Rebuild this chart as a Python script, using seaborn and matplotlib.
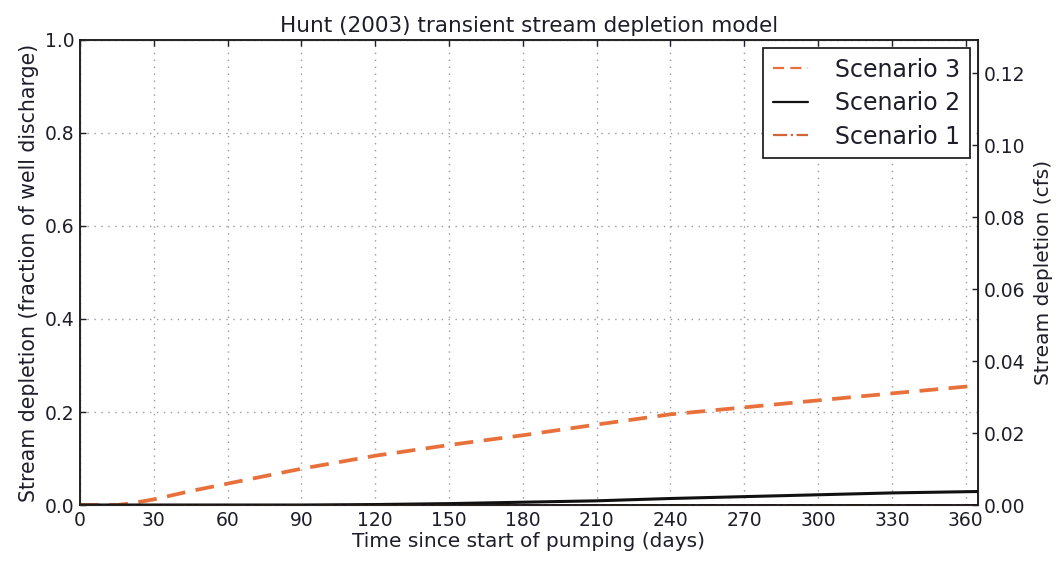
import numpy as np
import pandas as pd
import matplotlib
matplotlib.use("Agg")
import matplotlib.pyplot as plt
import seaborn as sns

days = [0, 15, 20, 30, 45, 60, 90, 120, 150, 180, 210, 240, 270, 300, 330, 365]
scenario3 = [0.0, 0.0, 0.003, 0.012, 0.030, 0.046, 0.078, 0.106, 0.129, 0.150, 0.173, 0.195, 0.210, 0.225, 0.240, 0.257]
scenario2 = [0.0, 0.0, 0.0, 0.0, 0.0, 0.0, 0.0, 0.001, 0.003, 0.006, 0.009, 0.014, 0.018, 0.022, 0.026, 0.029]
scenario1 = [0.0, 0.0, 0.0, 0.0, 0.0, 0.0, 0.0, 0.0, 0.0, 0.0, 0.0, 0.0, 0.0, 0.0, 0.0, 0.0]
xticks = [0, 30, 60, 90, 120, 150, 180, 210, 240, 270, 300, 330, 360]
left_ticks = [0.0, 0.2, 0.4, 0.6, 0.8, 1.0]
right_ticks = [0.00, 0.02, 0.04, 0.06, 0.08, 0.10, 0.12]
right_max = 0.1292

sns.set_style("white")
plt.rcParams['font.family'] = ['DejaVu Sans']
text_color = "#1e1e2a"
plt.rcParams['text.color'] = text_color
plt.rcParams['axes.labelcolor'] = text_color
plt.rcParams['xtick.color'] = text_color
plt.rcParams['ytick.color'] = text_color

fig = plt.figure(figsize=(10.58, 5.64), dpi=100)
ax = fig.add_axes([0.0756, 0.1046, 0.8488, 0.8245])

orange = "#E8703A"
sns.lineplot(x=days, y=scenario3, ax=ax, color=orange, linestyle="--", linewidth=2.7,
             label="Scenario 3")
sns.lineplot(x=days, y=scenario2, ax=ax, color="#111111", linestyle="-", linewidth=2.2,
             label="Scenario 2")
sns.lineplot(x=days, y=scenario1, ax=ax, color="#D0653A", linestyle="-.", linewidth=2.0,
             label="Scenario 1")
ax.lines[0].set_dashes([5, 2.8])

ax.set_xlim(0, 365)
ax.set_ylim(0, 1.0)
ax.set_xticks(xticks)
ax.set_yticks(left_ticks)
ax.set_yticklabels([f"{v:.1f}" for v in left_ticks])
ax.tick_params(axis="both", direction="in", labelsize=13.5, length=4, width=1, top=True, pad=4)
ax.grid(True, linestyle=(0, (1, 4)), color="#9a9a9a", linewidth=1)
for s in ax.spines.values():
    s.set_color("#111111")
    s.set_linewidth(1.3)

ax.set_xlabel("Time since start of pumping (days)", fontsize=14.5, labelpad=2)
ax.set_ylabel("Stream depletion (fraction of well discharge)", fontsize=14.8, labelpad=4)
ax.set_title("Hunt (2003) transient stream depletion model", fontsize=15.5, pad=6)

ax2 = ax.twinx()
ax2.set_ylim(0, right_max)
ax2.set_yticks(right_ticks)
ax2.set_yticklabels([f"{v:.2f}" for v in right_ticks])
ax2.tick_params(axis="y", direction="in", labelsize=13.5, length=4, width=1, pad=4)
ax2.set_ylabel("Stream depletion (cfs)", fontsize=14.5, labelpad=6)
ax2.grid(False)

leg = ax.legend(loc="upper right", fontsize=17, frameon=True, fancybox=False,
                handlelength=1.5, borderaxespad=0.35, labelspacing=0.4, handletextpad=1.15,
                borderpad=0.4)
leg.get_frame().set_edgecolor("#111111")
leg.get_frame().set_linewidth(1.2)
leg.get_frame().set_alpha(1.0)
for h in leg.get_lines():
    h.set_linewidth(1.6)

fig.savefig("out.png", dpi=100)
